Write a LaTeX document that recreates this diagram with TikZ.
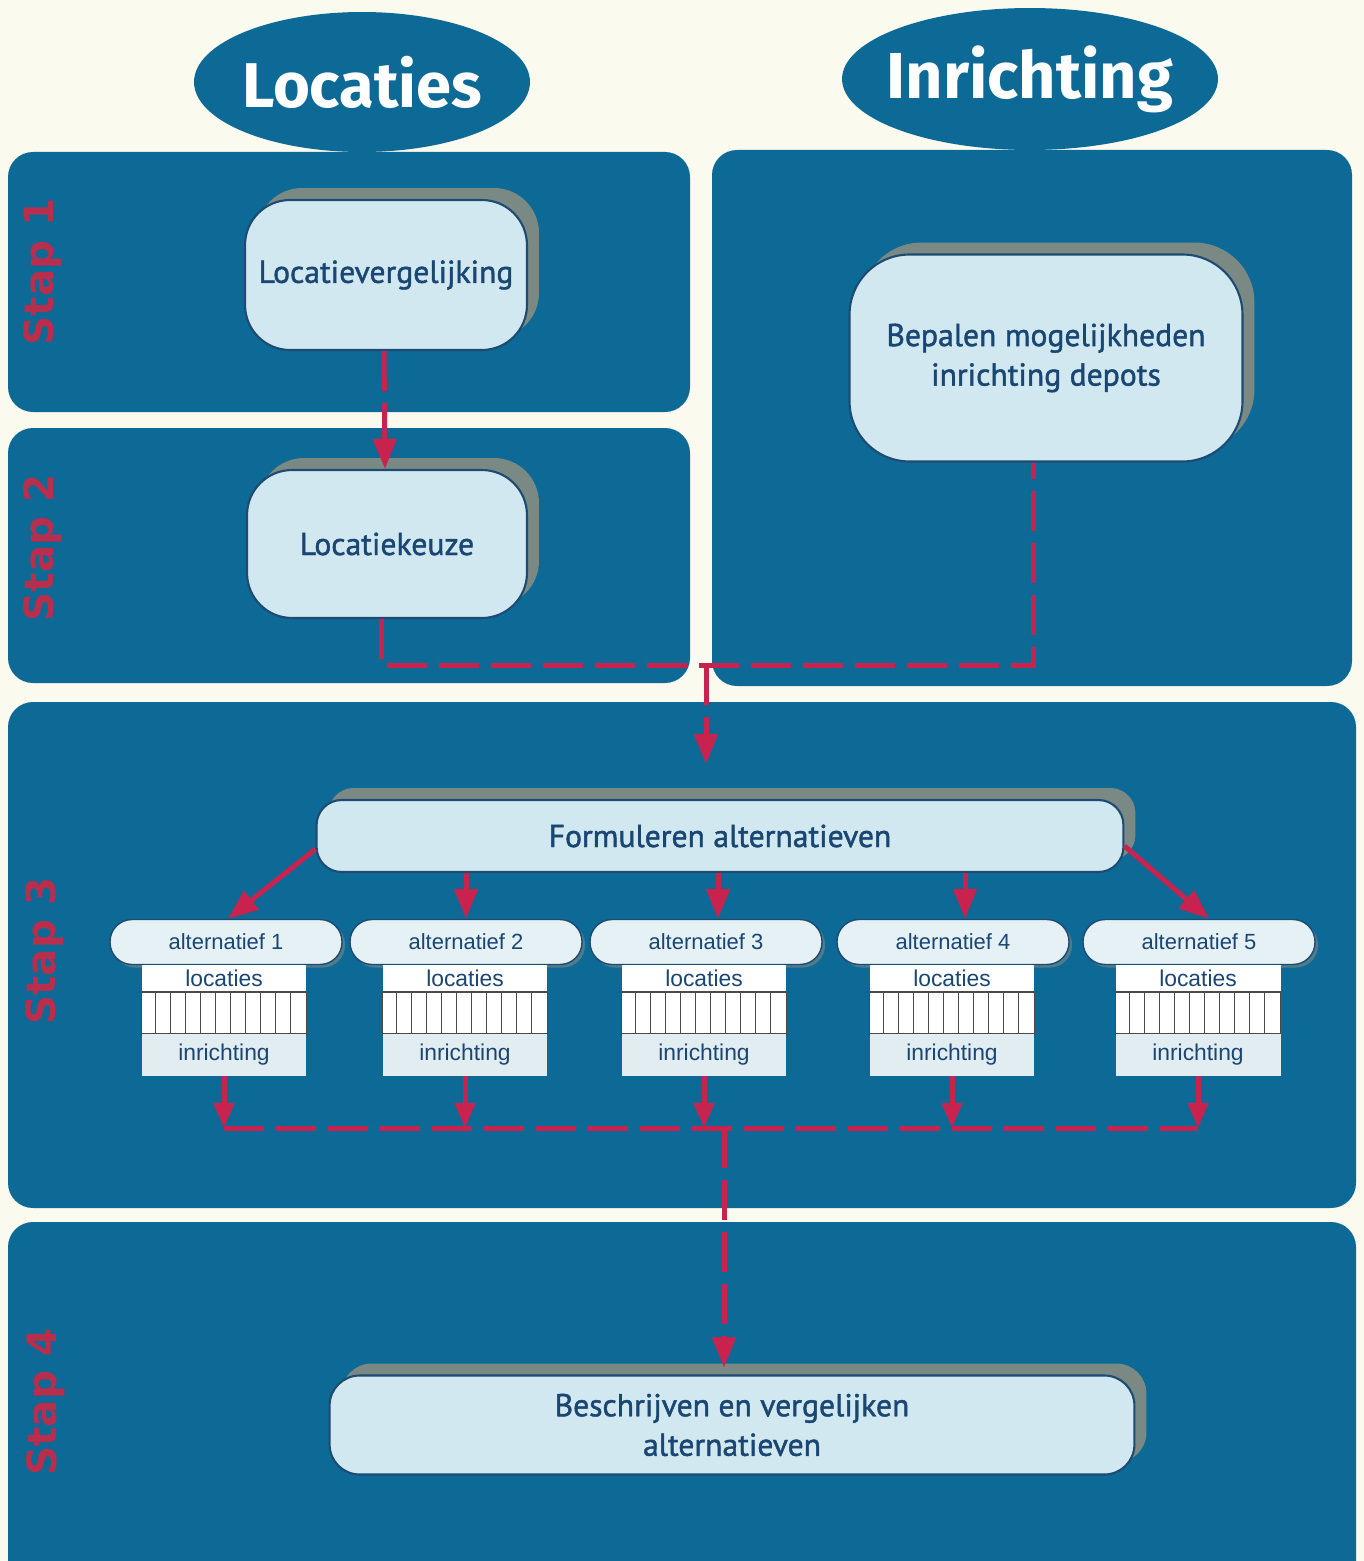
\documentclass[tikz,border=0pt]{standalone}
\usepackage{fontspec}
\setmainfont{PT Sans}[FakeBold=1.4]
\newfontfamily\headfont{Fira Sans}
\newfontfamily\arialfont{Liberation Sans}
\newfontfamily\stapfont{DejaVu Sans}
\usetikzlibrary{shapes.geometric,shadows,arrows.meta,calc}
\definecolor{cream}{HTML}{FAFAEE}
\definecolor{panelblue}{HTML}{0D6996}
\definecolor{boxfill}{HTML}{D2E8F0}
\definecolor{boxedge}{HTML}{1D4B72}
\definecolor{boxtext}{HTML}{1A4673}
\definecolor{shadowgray}{HTML}{7B8985}
\definecolor{linered}{HTML}{C8234F}
\definecolor{stapred}{HTML}{B92D4D}
\definecolor{pillfill}{HTML}{E6F1F5}
\definecolor{rowfill}{HTML}{E2EDF2}
\definecolor{hatchgray}{HTML}{4A4A4A}
\begin{document}
\begin{tikzpicture}[x=0.02cm,y=-0.02cm,
  panel/.style={fill=panelblue, rounded corners=0.5cm},
  headell/.style={ellipse, fill=panelblue, inner sep=0pt, text=white,
    font=\headfont\bfseries\fontsize{36}{40}\selectfont},
  bigbox/.style={rectangle, draw=boxedge, line width=1.2pt, fill=boxfill,
    text=boxtext, align=center, inner sep=0pt,
    font=\fontsize{18}{22.5}\selectfont,
    drop shadow={shadow xshift=0.24cm, shadow yshift=0.24cm, fill=shadowgray, opacity=1}},
  pill/.style={rectangle, draw=boxedge, line width=0.8pt, fill=pillfill,
    rounded corners=0.44cm, minimum width=4.64cm, minimum height=0.9cm,
    inner sep=0pt, text=boxtext, font=\arialfont\fontsize{12.5}{14}\selectfont,
    drop shadow={shadow xshift=0.06cm, shadow yshift=-0.06cm, fill=shadowgray, opacity=0.6}},
  tabtop/.style={rectangle, fill=white, minimum width=3.3cm, minimum height=0.54cm,
    inner sep=0pt, text=boxtext, font=\arialfont\fontsize{13}{15}\selectfont},
  tabmid/.style={rectangle, fill=white, draw=hatchgray, line width=0.9pt,
    minimum width=3.3cm, minimum height=0.84cm, inner sep=0pt},
  tabbot/.style={rectangle, fill=rowfill, minimum width=3.3cm, minimum height=0.84cm,
    inner sep=0pt, text=boxtext, font=\arialfont\fontsize{13}{15}\selectfont},
  hatchline/.style={draw=hatchgray, line width=0.8pt},
  staplabel/.style={rotate=90, text=stapred, font=\stapfont\bfseries\fontsize{23}{26}\selectfont},
  redline/.style={draw=linered, line width=0.1cm},
  reddash/.style={redline, dash pattern=on 0.8cm off 0.24cm},
  redarrow/.style={-{Triangle[length=0.6cm,width=0.46cm]}},
  smallarrow/.style={-{Triangle[length=0.5cm,width=0.4cm]}}
]
\clip (0,0) rectangle (1364,1561);
\fill[cream] (0,0) rectangle (1364,1561);

% ellipses
\node[headell, minimum width=6.72cm, minimum height=2.8cm] (loc) at (362,82) {\makebox[0pt][c]{Locaties}};
\node[headell, minimum width=7.52cm, minimum height=2.84cm, font=\headfont\bfseries\fontsize{37}{40}\selectfont] (inr) at (1030,79) {\makebox[0pt][c]{Inrichting}};

% panels
\fill[panel] (8,152) rectangle (690,412);
\fill[panel] (8,428) rectangle (690,683);
\fill[panel] (712,150) rectangle (1352,686);
\fill[panel] (8,702) rectangle (1356,1208);
\fill[panel] (8,1222) rectangle (1356,1620);

% step labels
\node[staplabel] (s1) at (43,272) {Stap 1};
\node[staplabel] (s2) at (43,548) {Stap 2};
\node[staplabel] (s3) at (45,951) {Stap 3};
\node[staplabel] (s4) at (46,1402) {Stap 4};

% main boxes
\node[bigbox, minimum width=5.64cm, minimum height=3.0cm, rounded corners=0.9cm] (lv) at (386,275) {Locatievergelijking};
\node[bigbox, minimum width=5.6cm, minimum height=2.96cm, rounded corners=0.9cm] (lk) at (387,544) {Locatiekeuze};
\node[bigbox, minimum width=7.86cm, minimum height=4.14cm, rounded corners=1.2cm] (bep) at (1046,358) {Bepalen mogelijkheden\\inrichting depots};
\node[bigbox, minimum width=16.14cm, minimum height=1.44cm, rounded corners=0.5cm] (fa) at (720,836) {Formuleren alternatieven};
\node[bigbox, minimum width=16.1cm, minimum height=1.98cm, rounded corners=0.6cm] (bes) at (732,1425) {Beschrijven en vergelijken\\alternatieven};

% alternatives
\foreach \i/\x/\tx in {1/226/224,2/466/465,3/706/704,4/953/952,5/1199/1198}{
  \node[pill] (a\i) at (\x,942) {alternatief \i};
  \node[tabtop] (l\i) at (\tx,978.5) {locaties};
  \node[tabmid] (h\i) at (\tx,1013) {};
  \foreach \k in {1,...,10}{
    \draw[hatchline] ([xshift=\k*0.3cm]h\i.south west) -- ([xshift=\k*0.3cm]h\i.north west);
  }
  \node[tabbot] (r\i) at (\tx,1055) {inrichting};
  \coordinate (b\i) at (\tx,1128);
}

% connectors top
\coordinate (J) at (706,665);
\coordinate (Jend) at (706,764);
\draw[reddash, redarrow] ([xshift=-0.04cm]lv.south) -- ([xshift=-0.04cm]lk.north);
\draw[reddash] ([xshift=-0.12cm]lk.south) |- (J) -| ([xshift=-0.26cm]bep.south);
\draw[reddash, redarrow] (J) -- (Jend);

% formuleren to alternatives
\draw[redline, redarrow] ([yshift=-0.26cm]fa.west) -- ([xshift=0.04cm]a1.north);
\draw[redline, redarrow] (fa.south -| a2.north) -- (a2.north);
\draw[redline, redarrow] ([xshift=0.24cm]fa.south -| a3.north) -- ([xshift=0.24cm]a3.north);
\draw[redline, redarrow] ([xshift=0.24cm]fa.south -| a4.north) -- ([xshift=0.24cm]a4.north);
\draw[redline, redarrow] ([yshift=-0.2cm]fa.east) -- ([xshift=0.2cm]a5.north);

% alternatives to bottom line
\foreach \i in {1,...,5}{
  \draw[redline, smallarrow] (r\i.south) -- (b\i);
}
\draw[reddash] (b1) -- (b5);
\coordinate (M) at (724,1128);
\draw[reddash, redarrow] (M) -- ([yshift=0.14cm]M |- bes.north);
\end{tikzpicture}
\end{document}
